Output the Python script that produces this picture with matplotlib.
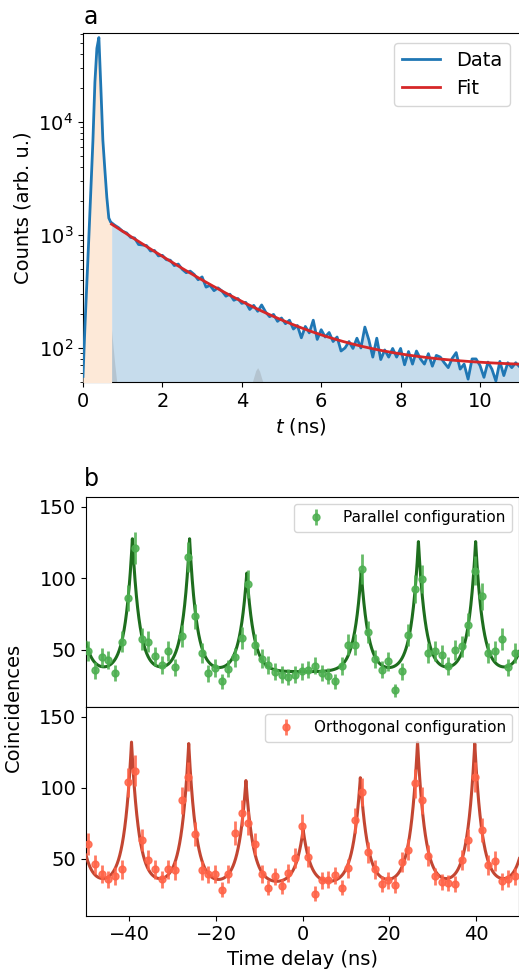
import numpy as np
import matplotlib
matplotlib.use("Agg")
import matplotlib.pyplot as plt

plt.rcParams['font.family'] = ['DejaVu Sans']
plt.rcParams['font.size'] = 14

# ---------------- panel a: time-resolved counts ----------------
t_peak = [0.00, 0.05, 0.10, 0.15, 0.20, 0.25, 0.30, 0.35, 0.40, 0.45,
          0.50, 0.55, 0.60, 0.65, 0.70, 0.72]
counts_peak = [56, 158, 398, 1000, 2610, 6810, 22400, 44700, 55600, 20000,
               6900, 3800, 2150, 1410, 1290, 1280]

t_tail = np.linspace(0.8, 11.0, 103)
counts_tail = [1217, 1155, 1075, 1040, 950, 938, 822, 814, 805, 721, 728, 652,
               659, 603, 597, 535, 552, 496, 463, 478, 447, 401,
               425, 345, 358, 321, 340, 319, 287, 299, 264, 274,
               248, 253, 219, 238, 211, 240, 208, 189, 198, 172,
               184, 164, 176, 147, 158, 123, 155, 136, 176, 119,
               145, 125, 137, 114, 125, 94, 100, 114, 99, 122,
               100, 153, 118, 83, 122, 79, 96, 83, 99, 83,
               99, 71, 93, 72, 94, 80, 72, 89, 69, 86,
               83, 74, 67, 81, 91, 65, 72, 53, 80, 80,
               70, 55, 75, 65, 51, 76, 57, 74, 67, 74,
               68]

# instrument response (grey) visible parts
irf_t = [0.55, 0.60, 0.65, 0.70, 0.75, 0.80, 0.85, 0.90]
irf_counts = [3800, 2150, 700, 170, 110, 72, 50, 40]
bump_t = [4.25, 4.30, 4.35, 4.40, 4.45, 4.50, 4.55]
bump_counts = [48, 55, 63, 67, 62, 54, 48]

# mono-exponential fit parameters
fit_amp = 1755.0
fit_tau = 1.8
fit_bg = 68.0
fit_start = 0.72

# ---------------- panel b: coincidences ----------------
t_bins = np.linspace(-49.45, 48.99, 65)
par_counts = [48.8, 35.5, 44.6, 42.7, 33.6, 55.5, 86.2, 121.0, 57.4, 55.5,
              45.3, 39.2, 48.8, 37.6, 59.5, 114.9, 73.2, 47.4, 33.4, 37.1,
              27.8, 36.7, 44.6, 58.3, 96.2, 53.4, 43.6, 39.5, 34.4, 32.5,
              30.6, 32.5, 34.8, 36.0, 38.8, 33.6, 31.3, 27.8, 38.3, 53.4,
              53.4, 106.3, 62.3, 43.4, 36.0, 41.8, 21.5, 34.8, 60.4, 92.3,
              99.3, 47.6, 48.8, 46.4, 38.3, 49.4, 52.2, 67.4, 105.1, 87.2,
              47.6, 48.8, 57.4, 37.6, 47.6]
orth_counts = [60.2, 46.2, 39.2, 35.5, 37.8, 42.5, 103.9, 112.1, 63.2, 49.2,
               42.5, 35.5, 42.5, 41.8, 91.1, 107.9, 67.4, 41.8, 39.0, 39.5,
               28.3, 39.5, 68.1, 82.1, 75.3, 60.4, 39.5, 29.7, 37.6, 30.6,
               40.0, 50.6, 73.2, 51.5, 25.5, 34.8, 35.3, 38.3, 29.7, 43.4,
               77.2, 97.0, 54.6, 42.5, 32.5, 34.8, 31.3, 47.6, 56.4, 103.0,
               91.1, 52.2, 37.6, 33.7, 33.2, 32.5, 49.4, 63.2, 107.4, 70.2,
               45.7, 48.7, 34.1, 36.0, 37.6]

par_peak_t = [-52.5, -39.3, -26.1, -12.9, 13.5, 26.7, 39.9, 53.1]
par_peak_A = [93, 93, 93, 69, 70, 91, 91, 91]
par_bg, par_tau = 34.5, 1.65
orth_peak_t = [-52.7, -39.5, -26.3, -13.1, 0.1, 13.3, 26.5, 39.7, 52.9]
orth_peak_A = [100, 100, 99, 73, 38.5, 75, 100, 99, 99]
orth_bg, orth_tau = 32.0, 1.7


def g2_fit(t, centers, amps, bg, tau):
    out = np.full_like(t, bg, dtype=float)
    for c, a in zip(centers, amps):
        out += a * np.exp(-np.abs(t - c) / tau)
    return out


# ---------------- figure ----------------
W, H = 519, 975
fig = plt.figure(figsize=(W / 100, H / 100), dpi=100)
axa = fig.add_axes([83 / W, 1 - 382 / H, (519.7 - 83) / W, 349 / H])
axb1 = fig.add_axes([86 / W, 1 - 706.7 / H, (519.4 - 86) / W, 210 / H])
axb2 = fig.add_axes([86 / W, 1 - 915.7 / H, (519.4 - 86) / W, 209 / H], sharex=axb1)

# panel a
t_all = np.concatenate([t_peak, t_tail])
c_all = np.concatenate([counts_peak, counts_tail])
ymin_a = 50
mask_tail = t_all >= fit_start
mask_peak = t_all <= fit_start
axa.fill_between(t_all[mask_tail], c_all[mask_tail], 1, color='tab:blue',
                 alpha=0.25, lw=0, zorder=1)
axa.fill_between(irf_t, irf_counts, 1, color='grey', alpha=0.25, lw=0, zorder=2)
axa.fill_between(bump_t, bump_counts, 1, color='grey', alpha=0.25, lw=0, zorder=2)
axa.fill_between(t_all[mask_peak], c_all[mask_peak], 1, color='#fde9d8',
                 lw=0, zorder=3)
axa.plot(t_all, c_all, color='tab:blue', lw=2, label='Data', zorder=4)
tf = np.linspace(fit_start, 11, 400)
axa.plot(tf, fit_amp * np.exp(-tf / fit_tau) + fit_bg, color='tab:red', lw=2,
         label='Fit', zorder=5)
axa.set_yscale('log')
axa.set_xlim(0, 11)
axa.set_ylim(ymin_a, 6.1e4)
axa.set_xticks([0, 2, 4, 6, 8, 10])
axa.set_xlabel('$t$ (ns)')
axa.set_ylabel('Counts (arb. u.)')
axa.legend(loc='upper right', fontsize=14)

# panel b
tt = np.linspace(-50, 50, 8001)
err_kw = dict(fmt='o', ms=5, elinewidth=2, capsize=0, zorder=4)
axb1.plot(tt, g2_fit(tt, par_peak_t, par_peak_A, par_bg, par_tau),
          color='#1e6e1e', lw=2.2, zorder=3)
axb1.errorbar(t_bins, par_counts, yerr=np.sqrt(par_counts), color='#4caf50',
              ecolor=(0.30, 0.69, 0.31, 0.55), alpha=0.85,
              label='Parallel configuration', **err_kw)
axb2.plot(tt, g2_fit(tt, orth_peak_t, orth_peak_A, orth_bg, orth_tau),
          color='#c34632', lw=2.2, zorder=3)
axb2.errorbar(t_bins, orth_counts, yerr=np.sqrt(orth_counts), color='#ff6347',
              ecolor=(1.0, 0.39, 0.28, 0.55), alpha=0.85,
              label='Orthogonal configuration', **err_kw)

for ax in (axb1, axb2):
    ax.set_xlim(-50, 50)
    ax.set_ylim(10, 157)
    ax.set_yticks([50, 100, 150])
    ax.legend(loc='upper right', fontsize=11)
plt.setp(axb1.get_xticklabels(), visible=False)
axb2.set_xticks([-40, -20, 0, 20, 40])
axb2.set_xlabel('Time delay (ns)')
fig.text(13 / W, 1 - 707 / H, 'Coincidences', rotation=90, ha='center',
         va='center', fontsize=14)

fig.text(83.5 / W, 1 - 24 / H, 'a', fontsize=17, ha='left', va='baseline')
fig.text(84 / W, 1 - 486 / H, 'b', fontsize=17, ha='left', va='baseline')

fig.savefig('out.png', dpi=100)
